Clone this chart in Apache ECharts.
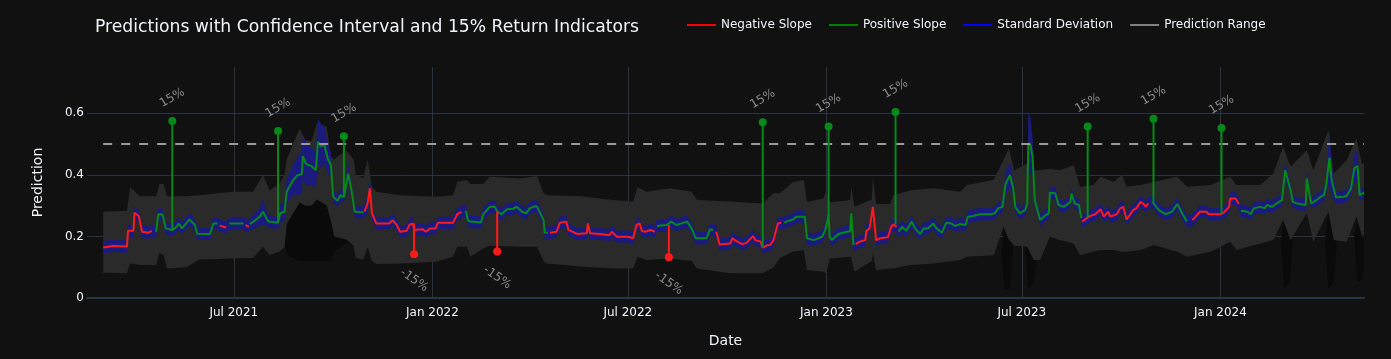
<!DOCTYPE html>
<html><head><meta charset="utf-8">
<script src="https://cdn.jsdelivr.net/npm/echarts@6/dist/echarts.min.js"></script>
<style>html,body{margin:0;padding:0;background:#111111;}#c{width:1391px;height:359px;}</style>
</head><body><div id="c"></div>
<script>
// ---- data (day offsets counted from startDate) ----
const startDate = '2021-03-01';
const axisStart = '2021-02-15';
const axisEnd = '2024-05-13';

const predDays = [
  1,10,23,24,29,30,34,37,43,46,
  50,52,56,59,65,69,71,74,81,86,88,100,103,107,
  109,115,
  118,131,
  133,136,
  137,146,149,154,163,165,169,171,177,181,185,186,189,194,198,200,203,206,209,212,214,218,221,224,228,231,234,242,
  243,246,248,250,254,266,269,273,276,282,285,288,289,297,300,304,309,311,325,329,333,
  337,339,341,351,353,359,364,366,370,375,381,384,389,393,396,401,403,409,410,413,
  415,421,424,430,432,440,449,450,452,461,470,472,477,487,492,495,498,500,503,508,512,
  514,523,527,532,542,546,550,560,563,566,
  569,572,582,584,586,593,597,603,605,610,612,616,619,622,624,626,629,
  632,634,640,643,651,653,659,667,670,673,674,676,682,690,693,694,696,
  698,702,707,708,711,714,717,721,728,731,733,736,
  738,741,745,750,753,758,761,765,770,773,778,782,787,790,795,800,802,807,813,823,827,830,834,837,841,844,846,850,855,857,858,860,862,864,869,874,877,878,883,886,891,897,898,901,905,907,
  908,914,920,925,928,932,934,940,943,946,949,952,955,958,962,965,967,969,
  973,979,985,991,996,1001,1005,
  1010,1013,1017,1023,1025,1036,1039,1044,1045,1050,1051,1053,
  1055,1061,1064,1067,1073,1077,1079,1084,1088,1093,1096,1101,1103,1107,1115,1116,1120,1125,1129,1132,1134,1137,1139,1143,1150,1153,1157,1160,1163,1165,1169
];
const predVals = [
  .164,.169,.167,.218,.218,.277,.266,.215,.212,.218,
  .215,.272,.271,.226,.221,.231,.242,.226,.255,.237,.209,.208,.242,.242,
  .235,.229,
  .242,.242,
  .237,.231,
  .240,.264,.280,.248,.244,.275,.280,.345,.383,.399,.402,.461,.435,.428,.415,.507,.493,.496,.453,.431,.329,.316,.334,.327,.404,.350,.280,.278,
  .280,.307,.356,.275,.242,.242,.253,.237,.215,.218,.239,.242,.221,.223,.215,.226,.226,.244,.244,.272,.280,
  .283,.251,.248,.245,.272,.296,.296,.280,.272,.288,.290,.296,.280,.275,.291,.298,.296,.253,.212,.212,
  .212,.215,.244,.248,.221,.208,.210,.242,.210,.208,.204,.215,.199,.199,.194,.237,.242,.218,.215,.221,.215,
  .234,.237,.248,.237,.248,.226,.194,.194,.223,.221,
  .215,.174,.177,.194,.188,.175,.179,.201,.188,.183,.164,.171,.172,.188,.215,.242,.244,
  .244,.248,.255,.264,.264,.194,.188,.199,.221,.269,.199,.188,.208,.215,.217,.275,.172,
  .175,.183,.188,.218,.226,.296,.188,.194,.197,.231,.239,.231,
  .215,.231,.218,.248,.226,.208,.226,.226,.242,.226,.212,.244,.242,.234,.240,.237,.264,.266,.272,.272,.275,.291,.296,.372,.399,.356,.296,.275,.285,.307,.502,.496,.458,.318,.253,.269,.275,.342,.340,.302,.296,.312,.339,.307,.302,.260,
  .248,.264,.272,.288,.264,.280,.264,.272,.291,.296,.255,.269,.285,.291,.312,.305,.296,.307,
  .312,.285,.272,.280,.305,.272,.248,
  .253,.264,.280,.280,.272,.272,.277,.296,.323,.323,.320,.305,
  .283,.280,.272,.291,.296,.291,.302,.296,.307,.318,.415,.350,.312,.307,.302,.388,.307,.318,.329,.334,.367,.456,.383,.327,.329,.331,.356,.421,.428,.334,.342
];
// day ranges where the slope is negative (red); all other points are positive (green)
const negRanges = [[1,46],[109,115],[133,136],[243,333],[415,512],[569,629],[698,736],[908,969],[1010,1053]];

// standard deviation (half width of blue band)
const stdDefault = 0.02;
const stdWideDays = [146,149,165,169,171,177,181,185,186,189,194,198,200,203,206,209,212,228,246,248,837,841,858,860,862,1096,1116,1137,1139,1160,1163];
const stdWideVals = [.03,.04,.03,.03,.04,.05,.06,.07,.07,.07,.06,.06,.076,.07,.06,.05,.04,.03,.03,.035,.04,.04,.1,.09,.06,.03,.03,.09,.05,.05,.05];

// prediction range (grey band)
const rangeDays  = [1,23,26,35,50,53,57,60,78,90,121,140,149,155,164,169,171,183,188,194,199,208,212,215,226,233,235,242,246,250,254,276,310,325,329,338,341,353,359,387,403,409,412,443,473,492,496,504,526,546,551,582,612,622,628,640,650,653,668,671,674,693,694,697,713,714,717,730,733,749,770,795,801,826,835,840,845,857,863,869,878,887,900,906,918,925,937,945,949,962,974,996,1005,1027,1045,1051,1073,1085,1094,1101,1116,1122,1136,1141,1153,1162,1167,1169];
const rangeUpper = [.28,.283,.36,.33,.33,.37,.37,.33,.33,.334,.345,.345,.40,.35,.37,.40,.45,.55,.513,.51,.567,.556,.46,.45,.48,.45,.40,.39,.448,.36,.345,.334,.329,.334,.377,.383,.37,.37,.394,.388,.396,.34,.334,.33,.318,.313,.36,.345,.356,.345,.318,.313,.307,.34,.34,.377,.383,.312,.323,.35,.31,.318,.36,.296,.32,.394,.305,.305,.334,.35,.356,.345,.366,.384,.448,.486,.415,.437,.415,.415,.42,.415,.431,.361,.367,.394,.377,.40,.361,.367,.377,.394,.361,.367,.394,.367,.367,.404,.491,.426,.48,.415,.545,.404,.448,.518,.437,.437];
const rangeLower = [.082,.080,.112,.107,.107,.145,.14,.096,.10,.125,.128,.13,.166,.14,.15,.165,.24,.31,.30,.30,.32,.30,.25,.20,.19,.17,.13,.125,.165,.12,.11,.112,.118,.134,.166,.166,.134,.161,.17,.166,.166,.12,.112,.102,.096,.096,.134,.123,.128,.12,.096,.08,.08,.10,.13,.15,.155,.091,.085,.08,.128,.134,.13,.085,.12,.145,.09,.096,.096,.107,.112,.123,.134,.139,.231,.19,.17,.166,.123,.123,.199,.188,.177,.139,.15,.156,.156,.15,.15,.156,.172,.15,.134,.15,.183,.156,.177,.188,.253,.188,.275,.183,.28,.188,.183,.264,.204,.204];

// darker patches below the prediction range around the prediction spikes
const shadeDays  = [[169,172,183,200,212,215,226,234],[833,836,841,844],[855,858,863,866],[1092,1095,1100,1103],[1133,1136,1141,1144],[1160,1163,1167,1169]];
const shadeUpper = [[.17,.30,.33,.34,.30,.22,.20,.17],[.14,.25,.25,.16],[.166,.30,.25,.13],[.18,.26,.20,.18],[.18,.28,.20,.18],[.20,.27,.20,.20]];
const shadeLower = [[.17,.14,.12,.12,.12,.15,.18,.17],[.14,.03,.03,.16],[.166,.03,.05,.13],[.18,.03,.05,.18],[.18,.03,.05,.18],[.20,.05,.06,.10]];

// 15% return indicators
const upDates = ['2021-05-05','2021-08-11','2021-10-11','2022-11-03','2023-01-03','2023-03-06','2023-08-31','2023-10-31','2024-01-02'];
const upTops  = [.575,.542,.525,.571,.557,.604,.557,.582,.552];
const upBases = [.218,.244,.329,.164,.265,.239,.264,.312,.272];
const downDates   = ['2021-12-15','2022-03-02','2022-08-08'];
const downBottoms = [.142,.151,.132];
const downBases   = [.242,.280,.237];

const thresholdValue = 0.5;
const thresholdDays = [1,1169];

const tickDates  = ['2021-07-01','2022-01-01','2022-07-01','2023-01-01','2023-07-01','2024-01-01'];
const tickLabels = ['Jul 2021','Jan 2022','Jul 2022','Jan 2023','Jul 2023','Jan 2024'];

// ---- build ----
const DAY = 86400000;
const t0 = Date.parse(startDate);
const ts = d => t0 + d * DAY;
const isNeg = d => negRanges.some(r => d >= r[0] && d <= r[1]);
const stdAt = d => { const k = stdWideDays.indexOf(d); return k >= 0 ? stdWideVals[k] : stdDefault; };
const tickTs = tickDates.map(s => Date.parse(s));

const redData = predDays.map((d, i) => [ts(d), isNeg(d) ? predVals[i] : null]);
const greenData = predDays.map((d, i) => [ts(d), isNeg(d) ? null : predVals[i]]);

const stdUpperPts = predDays.map((d, i) => [ts(d), predVals[i] + stdAt(d)]);
const stdLowerPts = predDays.map((d, i) => [ts(d), predVals[i] - stdAt(d)]);
const rngUpperPts = rangeDays.map((d, i) => [ts(d), rangeUpper[i]]);
const rngLowerPts = rangeDays.map((d, i) => [ts(d), rangeLower[i]]);

function bandSeries(name, uppers, lowers, fill) {
  return {
    name, type: 'custom', silent: true, color: fill,
    data: [uppers[0][0]],
    renderItem: (params, api) => ({
      type: 'group',
      children: uppers.map((up, k) => ({
        type: 'polygon',
        shape: { points: up.map(p => api.coord(p)).concat(lowers[k].slice().reverse().map(p => api.coord(p))) },
        style: { fill: fill, stroke: null }
      }))
    })
  };
}
const shadeUp = shadeDays.map((ds, k) => ds.map((d, i) => [ts(d), shadeUpper[k][i]]));
const shadeLo = shadeDays.map((ds, k) => ds.map((d, i) => [ts(d), shadeLower[k][i]]));

const upStem = [], downStem = [];
upDates.forEach((s, i) => { const t = Date.parse(s); upStem.push([t, upBases[i]], [t, upTops[i]], [t, null]); });
downDates.forEach((s, i) => { const t = Date.parse(s); downStem.push([t, downBases[i]], [t, downBottoms[i]], [t, null]); });

const FONT = 'DejaVu Sans';
const TXT = '#f2f5fa';
const GRID = '#283442';

const chart = echarts.init(document.getElementById('c'), null, { renderer: 'canvas' });
chart.setOption({
  backgroundColor: '#111111',
  animation: false,
  textStyle: { fontFamily: FONT },
  title: {
    text: 'Predictions with Confidence Interval and 15% Return Indicators',
    left: 90, top: 14,
    textStyle: { color: TXT, fontSize: 17.2, fontWeight: 'normal', fontFamily: FONT }
  },
  legend: {
    left: 682, top: 14, itemWidth: 29, itemHeight: 2, itemGap: 17, icon: 'rect',
    textStyle: { color: TXT, fontSize: 12, fontFamily: FONT },
    data: [
      { name: 'Negative Slope', itemStyle: { color: '#ff0000' } },
      { name: 'Positive Slope', itemStyle: { color: '#008000' } },
      { name: 'Standard Deviation', itemStyle: { color: '#0000ff' } },
      { name: 'Prediction Range', itemStyle: { color: '#808080' } }
    ]
  },
  grid: { left: 87, right: 27, top: 67, bottom: 61, containLabel: false },
  xAxis: {
    type: 'value', min: Date.parse(axisStart), max: Date.parse(axisEnd),
    name: 'Date', nameLocation: 'middle', nameGap: 36,
    nameTextStyle: { color: TXT, fontSize: 14, fontFamily: FONT },
    axisLine: { show: true, onZero: false, lineStyle: { color: GRID, width: 2 } },
    axisTick: { show: false, customValues: tickTs },
    axisLabel: {
      color: TXT, fontSize: 12, margin: 9, fontFamily: FONT,
      customValues: tickTs,
      formatter: v => tickLabels[tickTs.indexOf(v)] || ''
    },
    splitLine: { show: true, lineStyle: { color: GRID, width: 1 } }
  },
  yAxis: {
    type: 'value', min: 0, max: 0.75, interval: 0.2,
    name: 'Prediction', nameLocation: 'middle', nameGap: 42, nameRotate: 90,
    nameTextStyle: { color: TXT, fontSize: 14, fontFamily: FONT },
    axisLine: { show: false }, axisTick: { show: false },
    axisLabel: { color: TXT, fontSize: 12, margin: 3, showMaxLabel: false, fontFamily: FONT,
      formatter: v => v === 0 ? '0' : v.toFixed(1) },
    splitLine: { show: true, showMaxLine: false, lineStyle: { color: GRID, width: 1 } }
  },
  series: [
    bandSeries('shade', shadeUp, shadeLo, '#0a0a0a'),
    bandSeries('Prediction Range', [rngUpperPts], [rngLowerPts], '#2a2a2a'),
    bandSeries('Standard Deviation', [stdUpperPts], [stdLowerPts], '#1b1b7e'),
    { name: 'Negative Slope', type: 'line', data: redData, symbol: 'none', connectNulls: false,
      color: '#ff1a1a', lineStyle: { width: 2, color: '#ff1a1a' } },
    { name: 'Positive Slope', type: 'line', data: greenData, symbol: 'none', connectNulls: false,
      color: '#058a1a', lineStyle: { width: 2, color: '#058a1a' } },
    { name: 'threshold', type: 'line', symbol: 'none', silent: true,
      data: thresholdDays.map(d => [ts(d), thresholdValue]),
      lineStyle: { color: '#9a9a9a', width: 2, type: [9, 9] } },
    { name: 'upStem', type: 'line', data: upStem, symbol: 'none', connectNulls: false,
      lineStyle: { color: '#058a1a', width: 2 } },
    { name: 'downStem', type: 'line', data: downStem, symbol: 'none', connectNulls: false,
      lineStyle: { color: '#ff1a1a', width: 2 } },
    { name: 'upMarks', type: 'scatter', symbolSize: 8, data: upDates.map((s, i) => [Date.parse(s), upTops[i]]),
      itemStyle: { color: '#058a1a', opacity: 1 },
      label: { show: true, formatter: '15%', position: 'top', distance: 19, rotate: 30,
        align: 'center', verticalAlign: 'middle', color: '#8c8c8c', fontSize: 12, fontFamily: FONT } },
    { name: 'downMarks', type: 'scatter', symbolSize: 8, data: downDates.map((s, i) => [Date.parse(s), downBottoms[i]]),
      itemStyle: { color: '#ff1a1a', opacity: 1 },
      label: { show: true, formatter: '-15%', position: 'bottom', distance: 22, rotate: -35,
        align: 'center', verticalAlign: 'middle', color: '#8c8c8c', fontSize: 12, fontFamily: FONT } }
  ]
});
</script></body></html>
